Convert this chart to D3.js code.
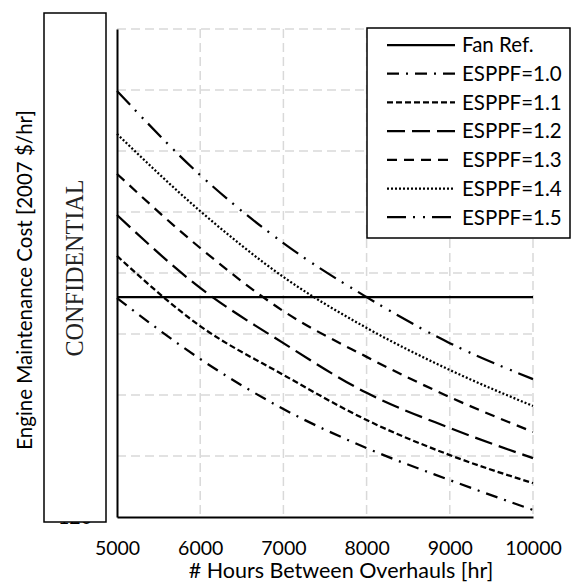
<!DOCTYPE html>
<html>
<head>
<meta charset="utf-8">
<script src="https://cdn.jsdelivr.net/npm/d3@7"></script>
<style>
body { margin:0; background:#fff; }
svg text { font-family: Lato, "Open Sans", sans-serif; fill:#000; }
</style>
</head>
<body>
<div id="chart"></div>
<script>

// values, cost in 2007 $/hr
var hours = [5000, 6000, 7000, 8000, 9000, 10000];
var fan_ref = 192.1;
var esppf_names = ['ESPPF=1.0', 'ESPPF=1.1', 'ESPPF=1.2', 'ESPPF=1.3', 'ESPPF=1.4', 'ESPPF=1.5'];
var esppf_10 = [191.8, 171.8, 155.4, 142.6, 132.1, 122.3];
var esppf_11 = [205.6, 182.6, 166.6, 151.8, 140.3, 131.1];
var esppf_12 = [219.0, 195.1, 177.0, 160.7, 149.2, 139.3];
var esppf_13 = [232.5, 208.2, 187.5, 172.5, 159.3, 147.9];
var esppf_14 = [245.6, 220.3, 198.7, 182.0, 168.2, 156.4];
var esppf_15 = [259.7, 232.1, 209.8, 192.1, 177.0, 165.2];
var x_ticks = [5000, 6000, 7000, 8000, 9000, 10000];
var y_ticks = [120, 140, 160, 180, 200, 220, 240, 260, 280];

var width = 571, height = 583;
var left = 117, right = 533, top_y = 29, bottom = 517;

var dashes = ['12,7,2,7', '6,3', '18,7', '10,7', '2,2', '19,7,2,8,2,7'];
var esppf_values = [esppf_10, esppf_11, esppf_12, esppf_13, esppf_14, esppf_15];

var series = esppf_names.map(function(name, i){
  return {name: name, values: esppf_values[i], dash: dashes[i]};
});

var x = d3.scaleLinear().domain([5000, 10000]).range([left, right]);
var y = d3.scaleLinear().domain([120, 280]).range([bottom, top_y]);

var svg = d3.select('#chart')
  .append('svg')
  .attr('width', width)
  .attr('height', height);

// grid
svg.append('g')
  .selectAll('line')
  .data(y_ticks.slice(1))
  .enter()
  .append('line')
  .attr('x1', left).attr('x2', right)
  .attr('y1', function(d){ return y(d); })
  .attr('y2', function(d){ return y(d); })
  .style('stroke', '#d9d9d9')
  .style('stroke-width', 1.5)
  .style('stroke-dasharray', '9,5');

svg.append('g')
  .selectAll('line')
  .data(x_ticks.slice(1))
  .enter()
  .append('line')
  .attr('x1', function(d){ return x(d); })
  .attr('x2', function(d){ return x(d); })
  .attr('y1', top_y).attr('y2', bottom)
  .style('stroke', '#d9d9d9')
  .style('stroke-width', 1.5)
  .style('stroke-dasharray', '9,5');

// axes
var x_axis = svg.append('g')
  .attr('transform', 'translate(0,' + bottom + ')')
  .call(d3.axisBottom(x).tickValues(x_ticks).tickSize(0).tickSizeOuter(0).tickPadding(24).tickFormat(d3.format('d')));

var y_axis = svg.append('g')
  .attr('transform', 'translate(' + left + ',0)')
  .call(d3.axisLeft(y).tickValues(y_ticks).tickSize(0).tickSizeOuter(0).tickPadding(25).tickFormat(d3.format('d')));

svg.selectAll('.domain')
  .style('stroke', '#000')
  .style('stroke-width', 2);

svg.selectAll('.tick text')
  .style('font-family', 'Lato, sans-serif')
  .style('font-size', '19.5px')
  .style('fill', '#000');

// lines
var line = d3.line()
  .x(function(d, i){ return x(hours[i]); })
  .y(function(d){ return y(d); })
  .curve(d3.curveMonotoneX);

svg.append('line')
  .attr('x1', x(5000)).attr('x2', x(10000))
  .attr('y1', y(fan_ref)).attr('y2', y(fan_ref))
  .style('stroke', '#000')
  .style('stroke-width', 2.25);

svg.append('g')
  .selectAll('path')
  .data(series)
  .enter()
  .append('path')
  .attr('d', function(d){ return line(d.values); })
  .style('fill', 'none')
  .style('stroke', '#000')
  .style('stroke-width', 2.25)
  .style('stroke-dasharray', function(d){ return d.dash; });

// legend
var legend = svg.append('g');

legend.append('rect')
  .attr('x', 367).attr('y', 28)
  .attr('width', 203).attr('height', 210)
  .style('fill', '#fff')
  .style('stroke', '#000')
  .style('stroke-width', 1.5);

var legend_items = [{name: 'Fan Ref.', dash: null}].concat(series);

var rows = legend.selectAll('.row')
  .data(legend_items)
  .enter()
  .append('g')
  .attr('class', 'row')
  .attr('transform', function(d, i){ return 'translate(0,' + (45 + i * 28.7) + ')'; });

rows.append('line')
  .attr('x1', 387).attr('x2', 455)
  .style('stroke', '#000')
  .style('stroke-width', 2.25)
  .style('stroke-dasharray', function(d){ return d.dash; });

rows.append('text')
  .attr('x', 462)
  .attr('dy', '0.36em')
  .style('font-size', '20.5px')
  .text(function(d){ return d.name; });

// confidential cover over the y tick labels
svg.append('rect')
  .attr('x', 44).attr('y', 13)
  .attr('width', 62).attr('height', 509)
  .style('fill', '#fff')
  .style('stroke', '#000')
  .style('stroke-width', 1.5);

svg.append('text')
  .attr('transform', 'translate(83,268) rotate(-90)')
  .attr('text-anchor', 'middle')
  .attr('textLength', 177)
  .attr('lengthAdjust', 'spacingAndGlyphs')
  .style('font-family', '"Liberation Serif", serif')
  .style('font-size', '25px')
  .style('fill', '#222')
  .text('CONFIDENTIAL');

// titles
svg.append('text')
  .attr('x', 341).attr('y', 578)
  .attr('text-anchor', 'middle')
  .style('font-size', '21.5px')
  .text('# Hours Between Overhauls [hr]');

svg.append('text')
  .attr('transform', 'translate(32,280) rotate(-90)')
  .attr('text-anchor', 'middle')
  .style('font-size', '20.5px')
  .text('Engine Maintenance Cost [2007 $/hr]');

</script>
</body>
</html>
